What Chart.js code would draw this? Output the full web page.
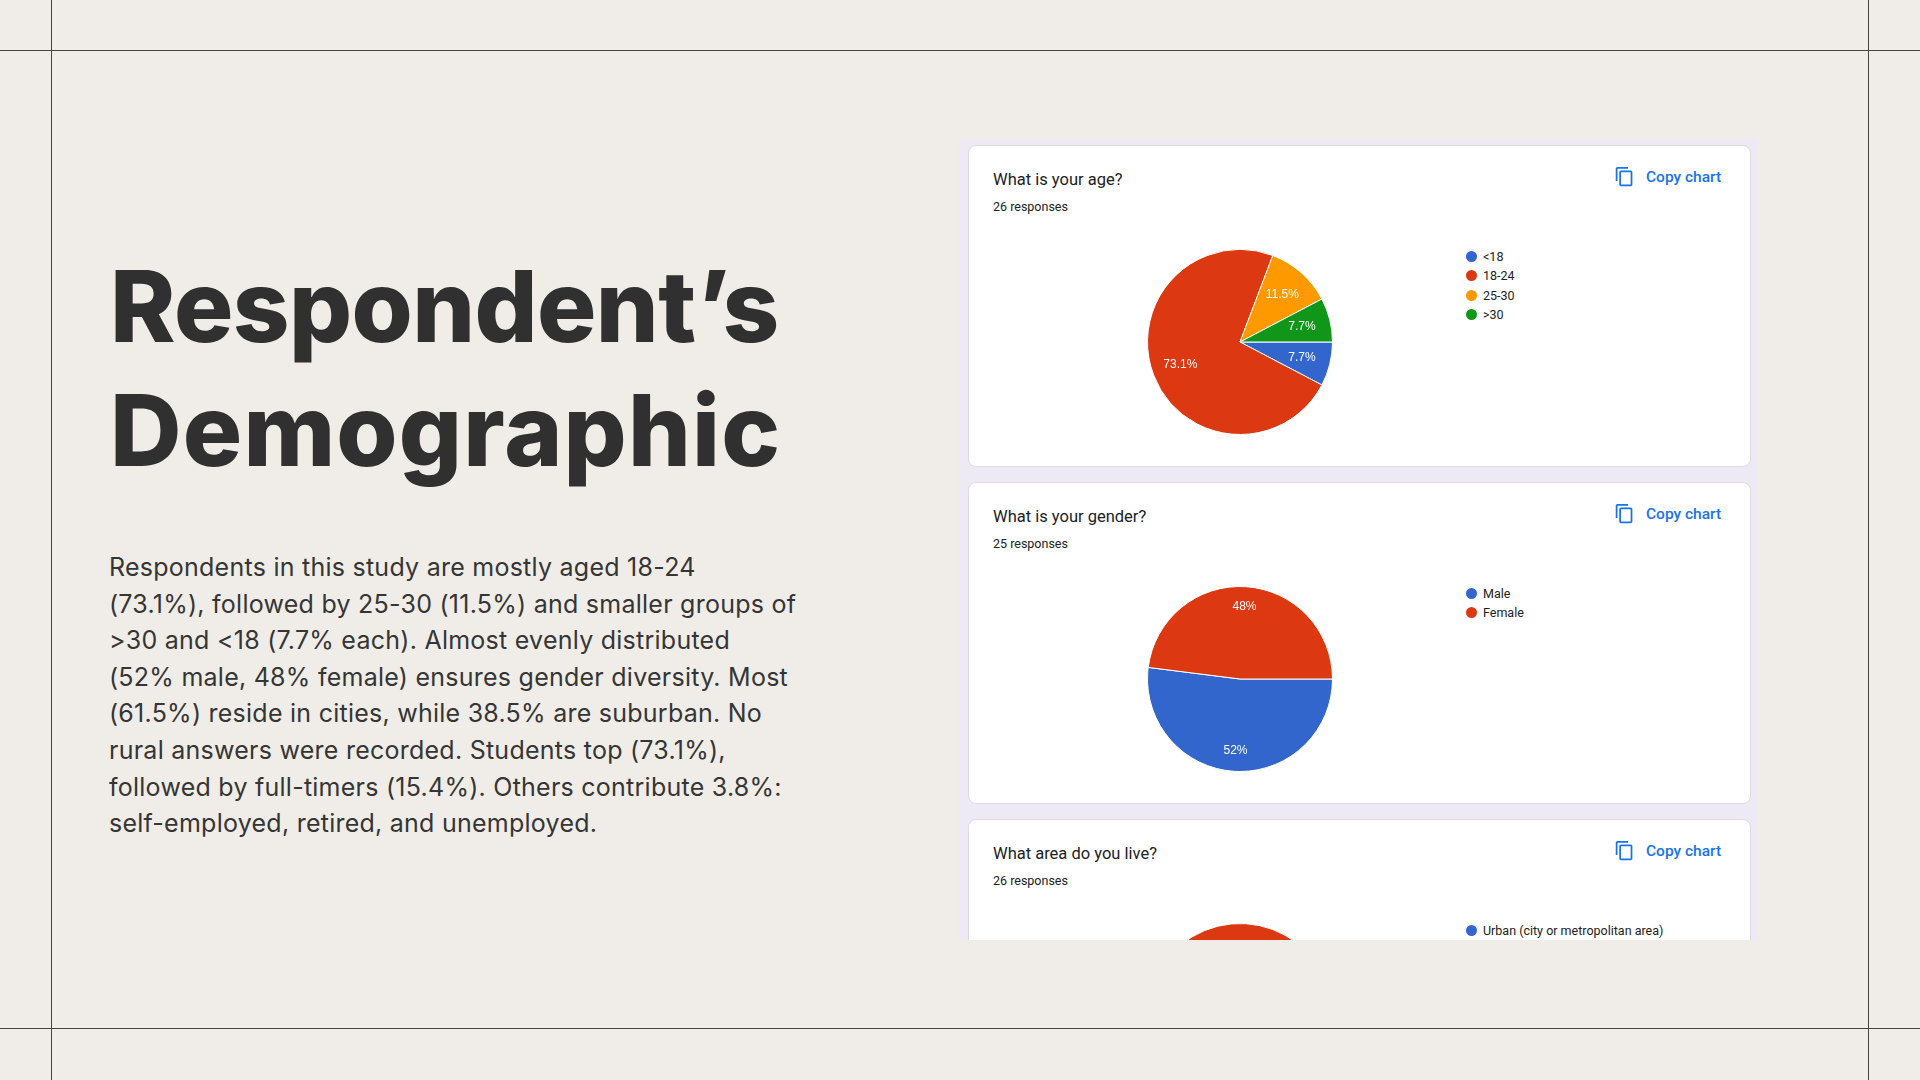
<!DOCTYPE html>
<html>
<head>
<meta charset="utf-8">
<script src="https://cdn.jsdelivr.net/npm/chart.js@4"></script>
<style>
  html, body { margin: 0; padding: 0; }
  body {
    width: 1920px; height: 1080px; position: relative; overflow: hidden;
    background: #f0ede8; font-family: Inter, "Noto Sans", sans-serif;
  }
  .hline { position: absolute; left: 0; width: 1920px; height: 1px; background: #444; }
  .vline { position: absolute; top: 0; height: 1080px; width: 1px; background: #444; }
  .title {
    position: absolute; left: 110px; font-weight: 800; font-size: 99px;
    line-height: 124px; color: #303030; white-space: nowrap;
  }
  .para {
    position: absolute; left: 109px; top: 549px; font-size: 25px; line-height: 36.6px;
    color: #353535; letter-spacing: 0.01em; white-space: nowrap;
  }
  .panel {
    position: absolute; left: 959px; top: 139px; width: 799px; height: 801px;
    background: #edeaf6; overflow: hidden;
  }
  .card {
    position: absolute; left: 9px; width: 781px; height: 320px;
    background: #fff; border: 1px solid #dcdce2; border-radius: 8px;
    font-family: Roboto, Arial, sans-serif;
  }
  .q { position: absolute; left: 24px; top: 24px; font-size: 16.5px; line-height: 20px; color: #202124; }
  .resp { position: absolute; left: 24px; top: 53px; font-size: 12.5px; line-height: 16px; color: #202124; }
  .copy { position: absolute; left: 645px; top: 21px; height: 20px; color: #1a73e8; font-size: 15.5px; font-weight: 500; }
  .copy svg { position: absolute; left: 0; top: -1px; }
  .copy span { position: absolute; left: 32px; top: 0px; line-height: 20px; white-space: nowrap; }
  .pie { position: absolute; left: 178px; top: 103px; width: 186px; height: 186px; }
  .legend { position: absolute; left: 496px; top: 101px; font-size: 12.5px; color: #222; }
  .legend div { height: 19.5px; line-height: 19.5px; position: relative; padding-left: 18px; white-space: nowrap; }
  .legend i { position: absolute; left: 1px; top: 4px; width: 11px; height: 11px; border-radius: 50%; }
</style>
</head>
<body>
<div class="hline" style="top:50px"></div>
<div class="hline" style="top:1028px"></div>
<div class="vline" style="left:51px"></div>
<div class="vline" style="left:1868px"></div>

<div class="title" style="top:244px; letter-spacing:-0.006em">Respondent’s</div>
<div class="title" style="top:368px; letter-spacing:0.012em">Demographic</div>

<div class="para">
Respondents in this study are mostly aged 18-24<br>
(73.1%), followed by 25-30 (11.5%) and smaller groups of<br>
&gt;30 and &lt;18 (7.7% each). Almost evenly distributed<br>
(52% male, 48% female) ensures gender diversity. Most<br>
(61.5%) reside in cities, while 38.5% are suburban. No<br>
rural answers were recorded. Students top (73.1%),<br>
followed by full-timers (15.4%). Others contribute 3.8%:<br>
self-employed, retired, and unemployed.
</div>

<div class="panel" id="panel"></div>

<script>
// data (counts of responses)
const ageLabels = ['<18', '18-24', '25-30', '>30'];
const ageCounts = [2, 19, 3, 2];
const genderLabels = ['Male', 'Female'];
const genderCounts = [13, 12];
const areaLabels = ['Urban (city or metropolitan area)', 'Suburban (residential area outside the city)', 'Rural (village or countryside)'];
const areaCounts = [16, 10, 0];
const sliceColors = ['#3366cc', '#dc3912', '#ff9900', '#109618'];

const questions = [
    { title: 'What is your age?', labels: ageLabels, values: ageCounts, dist: 0.69 },
    { title: 'What is your gender?', labels: genderLabels, values: genderCounts, dist: 0.78 },
    { title: 'What area do you live?', labels: areaLabels, values: areaCounts, dist: 0.7 }
];

const copyIcon = '<svg width="21" height="21" viewBox="0 0 24 24" fill="#1a73e8"><path d="M16 1H4c-1.1 0-2 .9-2 2v14h2V3h12V1zm3 4H8c-1.1 0-2 .9-2 2v14c0 1.1.9 2 2 2h11c1.1 0 2-.9 2-2V7c0-1.1-.9-2-2-2zm0 16H8V7h11v14z"/></svg>';

// percentage labels inside the slices, placed along each arc's middle angle
const sliceLabels = {
    id: 'sliceLabels',
    afterDatasetsDraw(chart, args, opts) {
        const ctx = chart.ctx;
        const data = chart.data.datasets[0].data;
        const total = data.reduce((a, b) => a + b, 0);
        ctx.save();
        ctx.fillStyle = '#fff';
        ctx.font = '12px "Liberation Sans", Arial, sans-serif';
        ctx.textAlign = 'center';
        ctx.textBaseline = 'middle';
        chart.getDatasetMeta(0).data.forEach((arc, i) => {
            if (!data[i]) return;
            const p = arc.getProps(['x', 'y', 'startAngle', 'endAngle', 'outerRadius'], true);
            const mid = (p.startAngle + p.endAngle) / 2;
            const r = p.outerRadius * opts.dist;
            const pct = (data[i] / total * 100).toFixed(1).replace(/\.0$/, '') + '%';
            ctx.fillText(pct, p.x + Math.cos(mid) * r, p.y + Math.sin(mid) * r);
        });
        ctx.restore();
    }
};

const panel = document.getElementById('panel');
const cardTops = [5.5, 342.5, 680];

questions.forEach((q, n) => {
    const total = q.values.reduce((a, b) => a + b, 0);
    const card = document.createElement('div');
    card.className = 'card';
    card.style.top = cardTops[n] + 'px';
    card.innerHTML =
        '<div class="q"></div>' +
        '<div class="resp">' + total + ' responses</div>' +
        '<div class="copy">' + copyIcon + '<span>Copy chart</span></div>' +
        '<canvas class="pie" width="186" height="186"></canvas>' +
        '<div class="legend"></div>';
    card.querySelector('.q').textContent = q.title;
    panel.appendChild(card);

    const chart = new Chart(card.querySelector('canvas'), {
        type: 'pie',
        data: {
            labels: q.labels,
            datasets: [{
                data: q.values,
                backgroundColor: sliceColors.slice(0, q.values.length),
                borderColor: '#ffffff',
                borderWidth: 1
            }]
        },
        options: {
            responsive: false,
            animation: false,
            rotation: 90,
            devicePixelRatio: 1,
            layout: { padding: 0 },
            plugins: {
                legend: { display: false },
                tooltip: { enabled: false },
                sliceLabels: { dist: q.dist }
            }
        },
        plugins: [sliceLabels]
    });

    // legend built from the chart's own labels/colours
    const legend = card.querySelector('.legend');
    chart.options.plugins.legend.labels.generateLabels(chart).forEach(item => {
        const row = document.createElement('div');
        row.innerHTML = '<i style="background:' + item.fillStyle + '"></i>';
        row.appendChild(document.createTextNode(item.text));
        legend.appendChild(row);
    });
});

// the panel is cut off like the screenshot; drop legend rows that start below the cut
const panelBottom = panel.getBoundingClientRect().bottom;
document.querySelectorAll('.legend div').forEach(row => {
    if (row.getBoundingClientRect().top + 10 > panelBottom) row.remove();
});
</script>
</body>
</html>
